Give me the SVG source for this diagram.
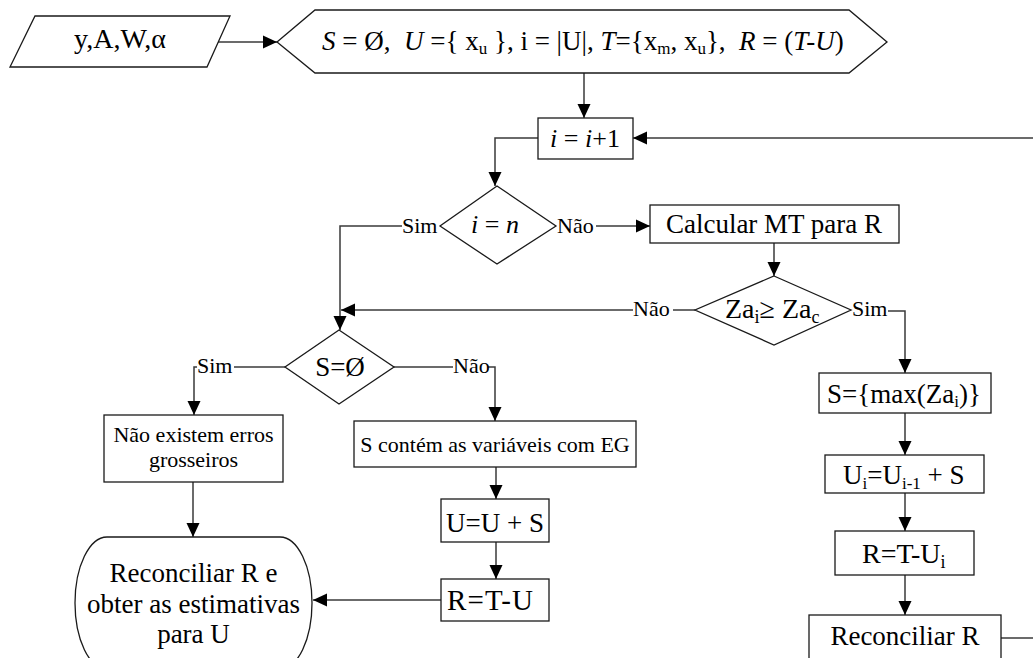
<svg xmlns="http://www.w3.org/2000/svg" width="1033" height="658" viewBox="0 0 1033 658" font-family="'Liberation Serif', 'DejaVu Serif', serif">
<defs>
<marker id="ah" markerUnits="userSpaceOnUse" markerWidth="14" markerHeight="14" viewBox="0 0 14 14" refX="14" refY="7" orient="auto">
<path d="M0,0.5 L14,7 L0,13.5 Z" fill="#000"/>
</marker>
<style>
.s{fill:#fff;stroke:#1a1a1a;stroke-width:1.3}
.c{fill:none;stroke:#3a3a3a;stroke-width:1.5}
.a{marker-end:url(#ah)}
text{font-family:'Liberation Serif','DejaVu Serif',serif;fill:#000}
.t{font-size:27px;text-anchor:middle}
.m{font-size:22px;text-anchor:middle}
.l{font-size:22px}
.i{font-style:italic}
</style>
</defs>
<rect width="1033" height="658" fill="#fff"/>
<g id="connectors">
<path class="c a" d="M218,42 H277"/>
<path class="c a" d="M584,73 V118"/>
<path class="c a" d="M1033,138 H633"/>
<path class="c a" d="M538,138 H495 V186"/>
<path class="c a" d="M402,226 H340 V330"/>
<path class="c a" d="M596,226 H650"/>
<path class="c a" d="M774,243 V276"/>
<path class="c" d="M673,310 H695"/>
<path class="c a" d="M633,310 H341"/>
<path class="c a" d="M888,311 H905 V373"/>
<path class="c" d="M234,367 H285"/>
<path class="c a" d="M197,367 H194 V415"/>
<path class="c" d="M394,367 H453"/>
<path class="c a" d="M488,367 H495 V421"/>
<path class="c a" d="M193,482 V537"/>
<path class="c a" d="M496,467 V499"/>
<path class="c a" d="M496,542 V579"/>
<path class="c a" d="M441,600 H313"/>
<path class="c a" d="M905,413 V455"/>
<path class="c a" d="M905,493 V531"/>
<path class="c a" d="M905,575 V615"/>
<path class="c" d="M1001,638 H1033"/>
<text class="l" x="402" y="233">Sim</text>
<text class="l" x="557" y="233">Não</text>
<text class="l" x="633" y="316">Não</text>
<text class="l" x="852" y="316">Sim</text>
<text class="l" x="197" y="373">Sim</text>
<text class="l" x="453" y="373">Não</text>
</g>
<g id="input">
<polygon class="s" points="35,16 230,16 207,67 10,67"/>
<text class="m" x="120" y="48" style="font-size:28px">y,A,W,α</text>
</g>
<g id="init">
<polygon class="s" points="277,42 315,10 849,10 887,42 849,73 315,73"/>
<text x="322" y="50" style="font-size:27px" xml:space="preserve"><tspan class="i">S</tspan> = Ø,  <tspan class="i">U</tspan> ={ x<tspan font-size="17" dy="4">u</tspan><tspan dy="-4"> }, i = |U|, </tspan><tspan class="i">T</tspan>={x<tspan font-size="17" dy="4">m</tspan><tspan dy="-4">, x</tspan><tspan font-size="17" dy="4">u</tspan><tspan dy="-4">},  </tspan><tspan class="i">R</tspan> = (<tspan class="i">T-U</tspan>)</text>
</g>
<g id="inc">
<rect class="s" x="538" y="118" width="95" height="41"/>
<text class="t" x="585" y="147" style="font-size:26px" xml:space="preserve"><tspan class="i">i</tspan> = <tspan class="i">i</tspan>+1</text>
</g>
<g id="dec-n">
<polygon class="s" points="497,186 556,226 497,264 440,226"/>
<text class="t" x="495" y="233" style="font-size:26px" xml:space="preserve"><tspan class="i">i</tspan> = <tspan class="i">n</tspan></text>
</g>
<g id="calc">
<rect class="s" x="650" y="205" width="249" height="38"/>
<text class="t" x="774" y="233">Calcular MT para R</text>
</g>
<g id="dec-za">
<polygon class="s" points="774,276 851,310 774,345 695,310"/>
<text x="725" y="318" style="font-size:28px">Za<tspan font-size="18" dy="5">i</tspan><tspan dy="-5">≥ Za</tspan><tspan font-size="18" dy="5">c</tspan></text>
</g>
<g id="dec-s">
<polygon class="s" points="339,330 394,367 339,404 285,367"/>
<text class="t" x="340" y="376">S=Ø</text>
</g>
<g id="no-errors">
<rect class="s" x="104" y="415" width="179" height="67"/>
<text class="m" x="193.5" y="442">Não existem erros</text>
<text class="m" x="193.5" y="467">grosseiros</text>
</g>
<g id="s-contains">
<rect class="s" x="354" y="421" width="282" height="46"/>
<text class="m" x="495" y="452">S contém as variáveis com EG</text>
</g>
<g id="u-update">
<rect class="s" x="441" y="499" width="108" height="43"/>
<text class="t" x="495" y="532" xml:space="preserve">U=U + S</text>
</g>
<g id="r-update">
<rect class="s" x="441" y="579" width="108" height="42"/>
<text x="447" y="610" style="font-size:29px" textLength="86" lengthAdjust="spacing">R=T-U</text>
</g>
<g id="reconcile-final">
<rect class="s" x="75" y="537" width="237" height="132" rx="32" ry="66"/>
<text class="t" x="193.5" y="582">Reconciliar R e</text>
<text class="t" x="193.5" y="613">obter as estimativas</text>
<text class="t" x="193.5" y="643">para U</text>
</g>
<g id="s-max">
<rect class="s" x="819" y="373" width="172" height="40"/>
<text x="827" y="403" style="font-size:27px">S={max(Za<tspan font-size="17" dy="4">i</tspan><tspan dy="-4">)}</tspan></text>
</g>
<g id="ui-update">
<rect class="s" x="825" y="455" width="159" height="38"/>
<text x="843" y="484" style="font-size:27px" xml:space="preserve">U<tspan font-size="17" dy="5">i</tspan><tspan dy="-5">=U</tspan><tspan font-size="17" dy="5">i-1</tspan><tspan dy="-5"> + S</tspan></text>
</g>
<g id="ri-update">
<rect class="s" x="835" y="531" width="139" height="44"/>
<text x="862" y="563" style="font-size:28px">R=T-U<tspan font-size="18" dy="5">i</tspan></text>
</g>
<g id="reconcile-r">
<rect class="s" x="809" y="615" width="192" height="60"/>
<text class="t" x="905" y="645">Reconciliar R</text>
</g>
</svg>
